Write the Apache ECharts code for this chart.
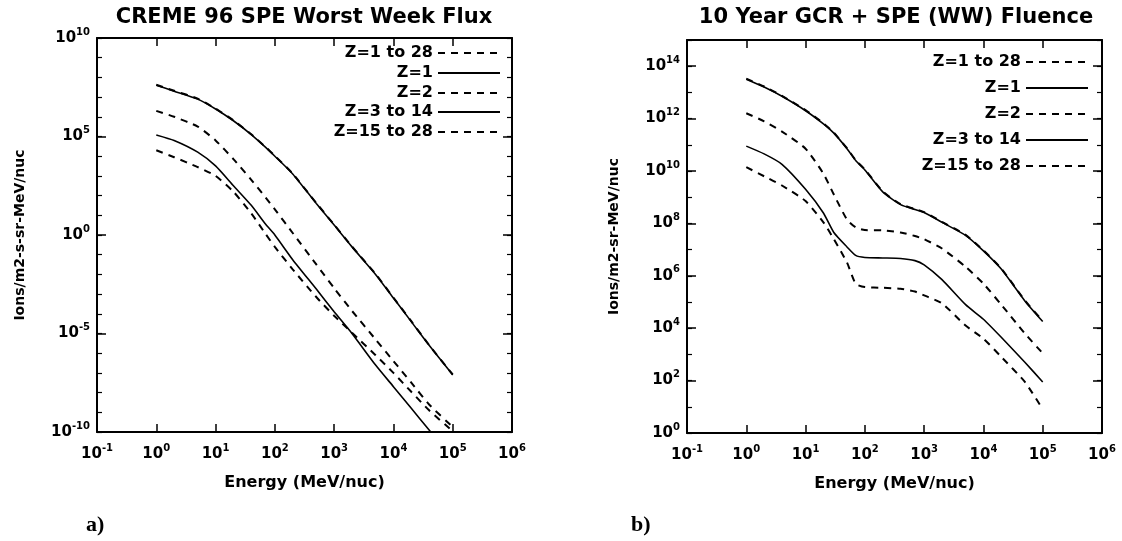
<!DOCTYPE html>
<html><head><meta charset="utf-8">
<script src="https://cdn.jsdelivr.net/npm/echarts@6/dist/echarts.min.js"></script>
<style>html,body{margin:0;padding:0;background:#fff}#c{width:1122px;height:541px}</style>
</head><body><div id="c"></div>
<script>
// ---- data ----
const NAMES = ['Z=1 to 28', 'Z=1', 'Z=2', 'Z=3 to 14', 'Z=15 to 28'];
const DASHED = [true, false, true, false, true];

const TITLE_A = 'CREME 96 SPE Worst Week Flux';
const TITLE_B = '10 Year GCR + SPE (WW) Fluence';
const YNAME_A = 'Ions/m2-s-sr-MeV/nuc';
const YNAME_B = 'Ions/m2-sr-MeV/nuc';
const XNAME = 'Energy (MeV/nuc)';

// panel a) energies (MeV/nuc) and flux values
const E_A = [1, 2, 5, 10, 20, 40, 70, 100, 200, 500, 1e3, 2e3, 5e3, 1e4, 2e4, 4e4, 1e5];
const A_Z1_28 = [4.2e7, 2.1e7, 8.3e6, 2.6e6, 6.6e5, 1.3e5, 2.9e4, 1.05e4, 1.3e3, 42, 3.35, 0.26, 0.0105, 6.6e-4, 4.2e-5, 2.6e-6, 8.3e-8];
const A_Z1 = [4e7, 2e7, 7.9e6, 2.5e6, 6.3e5, 1.26e5, 2.8e4, 1e4, 1.26e3, 40, 3.2, 0.25, 0.01, 6.3e-4, 4e-5, 2.5e-6, 7.9e-8];
const A_Z2 = [2e6, 1e6, 3.2e5, 6.3e4, 7.1e3, 630, 79, 20, 1.26, 0.032, 2e-3, 1.4e-4, 5e-6, 4e-7, 3.2e-8, 2.5e-9, 1.8e-10];
const A_Z3_14 = [1.2e5, 6.3e4, 1.6e4, 3.2e3, 316, 32, 3.5, 1, 0.056, 1.8e-3, 1.26e-4, 1e-5, 2.5e-7, 2e-8, 1.6e-9, 1.26e-10, 4e-12];
const A_Z15_28 = [2e4, 8.9e3, 2.8e3, 1e3, 158, 12.6, 1.12, 0.25, 0.018, 7.1e-4, 7.9e-5, 1.1e-5, 7.9e-7, 1e-7, 1.1e-8, 1.26e-9, 1.1e-10];

// panel b) energies and fluence values
const E_B = [1, 2, 4, 10, 20, 30, 50, 70, 100, 200, 400, 700, 1e3, 2e3, 5e3, 1e4, 2e4, 5e4, 1e5];
const B_Z1_28 = [3.35e13, 1.68e13, 7.4e12, 2.1e12, 6.6e11, 2.9e11, 7.4e10, 2.6e10, 1.15e10, 1.68e9, 5.4e8, 3.55e8, 2.7e8, 1.15e8, 3.65e7, 9.3e6, 1.9e6, 1.15e5, 1.9e4];
const B_Z1 = [3.2e13, 1.6e13, 7.1e12, 2e12, 6.3e11, 2.8e11, 7.1e10, 2.5e10, 1.1e10, 1.6e9, 5.2e8, 3.4e8, 2.6e8, 1.1e8, 3.5e7, 8.9e6, 1.8e6, 1.1e5, 1.8e4];
const B_Z2 = [1.6e12, 7.9e11, 3.2e11, 7.1e10, 7.9e9, 1.26e9, 1.4e8, 7.1e7, 5.6e7, 5.4e7, 4.5e7, 3.3e7, 2.5e7, 1.1e7, 2.2e6, 5e5, 7.9e4, 6.3e3, 1.1e3];
const B_Z3_14 = [8.9e10, 4.5e10, 1.8e10, 2e9, 2.5e8, 4.5e7, 1.26e7, 6e6, 5e6, 4.8e6, 4.6e6, 3.8e6, 2.6e6, 7.1e5, 7.9e4, 2.2e4, 4.5e3, 500, 89];
const B_Z15_28 = [1.4e10, 6.3e9, 2.8e9, 7.1e8, 1.1e8, 2.5e7, 3.2e6, 5e5, 3.7e5, 3.5e5, 3.2e5, 2.5e5, 1.8e5, 8.9e4, 1.26e4, 4e3, 800, 89, 8];

const A_SERIES = [A_Z1_28, A_Z1, A_Z2, A_Z3_14, A_Z15_28];
const B_SERIES = [B_Z1_28, B_Z1, B_Z2, B_Z3_14, B_Z15_28];

// ---- styling / layout ----
const F = 'DejaVu Sans';
const GRIDS = [
  {left: 97, top: 38, width: 415, height: 394},
  {left: 687, top: 40, width: 415, height: 393}
];
const Y_RANGE = [[1e-10, 1e10, 5], [1, 1e15, 2]];
const YNAMES = [YNAME_A, YNAME_B];
const YNAME_GAP = [70, 66];
const SHOW_YMAX = [true, false];
const LEG_RIGHT = [621, 33];
const LEG_ROWS = [[53, 73, 93, 112, 132], [62, 88, 114, 140, 166]];

function expFmt(v) {
  const e = Math.round(Math.log10(v));
  return '{b|10}{s|' + e + '}';
}
const RICH = {
  b: {fontFamily: F, fontWeight: 'bold', fontSize: 15, color: '#000'},
  s: {fontFamily: F, fontWeight: 'bold', fontSize: 10, color: '#000', padding: [0, 0, 12, 0]}
};
const LINE = {show: true, onZero: false, lineStyle: {color: '#000', width: 2}};

const xAxis = [], yAxis = [], series = [], legend = [];
for (let g = 0; g < 2; g++) {
  xAxis.push({
    type: 'log', logBase: 10, gridIndex: g, min: 0.1, max: 1e6, interval: 1, position: 'bottom',
    axisLine: LINE, axisTick: {inside: true, length: 8, lineStyle: {color: '#000', width: 1.5}},
    axisLabel: {formatter: expFmt, rich: RICH, margin: 11},
    splitLine: {show: false},
    name: XNAME, nameLocation: 'middle', nameGap: 43,
    nameTextStyle: {fontFamily: F, fontWeight: 'bold', fontSize: 16, color: '#000'}
  });
  xAxis.push({
    type: 'log', logBase: 10, gridIndex: g, min: 0.1, max: 1e6, interval: 1, position: 'top',
    axisLine: LINE, axisTick: {inside: true, length: 8, lineStyle: {color: '#000', width: 1.5}},
    axisLabel: {show: false}, splitLine: {show: false}
  });
  const [ymin, ymax, yint] = Y_RANGE[g];
  yAxis.push({
    type: 'log', logBase: 10, gridIndex: g, min: ymin, max: ymax, interval: yint, position: 'left',
    axisLine: LINE, axisTick: {inside: true, length: 9, lineStyle: {color: '#000', width: 1.5}},
    axisLabel: {formatter: expFmt, rich: RICH, margin: 7, showMaxLabel: SHOW_YMAX[g]},
    splitLine: {show: false},
    name: YNAMES[g], nameLocation: 'middle', nameGap: YNAME_GAP[g], nameRotate: 90,
    nameTextStyle: {fontFamily: F, fontWeight: 'bold', fontSize: 14, color: '#000'}
  });
  yAxis.push({
    type: 'log', logBase: 10, gridIndex: g, min: ymin, max: ymax, interval: 1, position: 'left',
    axisLine: {show: false}, axisTick: {inside: true, length: 5, lineStyle: {color: '#000', width: 1.2}},
    axisLabel: {show: false}, splitLine: {show: false}
  });
  yAxis.push({
    type: 'log', logBase: 10, gridIndex: g, min: ymin, max: ymax, interval: yint, position: 'right',
    axisLine: LINE, axisTick: {inside: true, length: 9, lineStyle: {color: '#000', width: 1.5}},
    axisLabel: {show: false}, splitLine: {show: false}
  });
  yAxis.push({
    type: 'log', logBase: 10, gridIndex: g, min: ymin, max: ymax, interval: 1, position: 'right',
    axisLine: {show: false}, axisTick: {inside: true, length: 5, lineStyle: {color: '#000', width: 1.2}},
    axisLabel: {show: false}, splitLine: {show: false}
  });
  const E = g === 0 ? E_A : E_B;
  const S = g === 0 ? A_SERIES : B_SERIES;
  NAMES.forEach((nm, i) => {
    series.push({
      type: 'line', name: nm, xAxisIndex: g * 2, yAxisIndex: g * 4,
      data: E.map((x, k) => [x, S[i][k]]),
      symbol: 'none', showSymbol: false, smooth: 0.2, clip: true,
      lineStyle: DASHED[i] ? {color: '#000', width: 2, type: [7, 6]} : {color: '#000', width: 1.6, type: 'solid'},
      itemStyle: {color: '#000'},
      z: i === 0 ? 1 : 2
    });
    legend.push({
      data: [nm], orient: 'horizontal', align: 'right', right: LEG_RIGHT[g], top: LEG_ROWS[g][i] - 9,
      itemWidth: 62, itemHeight: 14, padding: 0, selectedMode: false,
      itemStyle: {color: 'rgba(0,0,0,0)', borderColor: 'rgba(0,0,0,0)', borderWidth: 0},
      textStyle: {fontFamily: F, fontWeight: 'bold', fontSize: 16, color: '#000', lineHeight: 18}
    });
  });
}

const chart = echarts.init(document.getElementById('c'));
chart.setOption({
  animation: false,
  backgroundColor: '#fff',
  title: [
    {text: TITLE_A, left: 304, top: 7, textAlign: 'center', padding: 0,
     textStyle: {fontFamily: F, fontWeight: 'bold', fontSize: 21, color: '#000'}},
    {text: TITLE_B, left: 896, top: 7, textAlign: 'center', padding: 0,
     textStyle: {fontFamily: F, fontWeight: 'bold', fontSize: 21, color: '#000'}}
  ],
  grid: GRIDS,
  xAxis, yAxis, series, legend,
  graphic: [
    {type: 'text', left: 86, top: 514, style: {text: 'a)', font: 'bold 22px "Liberation Serif"', fill: '#000'}},
    {type: 'text', left: 631, top: 514, style: {text: 'b)', font: 'bold 22px "Liberation Serif"', fill: '#000'}}
  ]
});
</script></body></html>
